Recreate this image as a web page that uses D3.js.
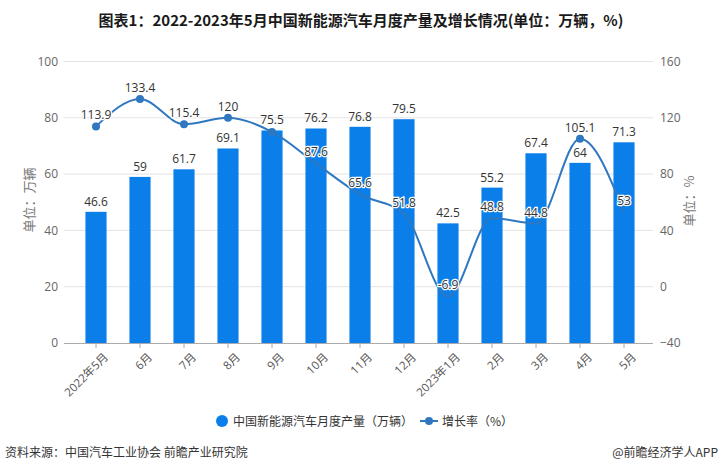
<!DOCTYPE html>
<html><head><meta charset="utf-8">
<script src="https://cdn.jsdelivr.net/npm/d3@7"></script>
<style>
html,body{margin:0;padding:0;background:#fff;}
text{font-family:"Noto Sans CJK SC","Noto Sans",sans-serif;}
</style></head>
<body><svg id="c" width="722" height="474"></svg>
<script>
const categories = ["2022年5月","6月","7月","8月","9月","10月","11月","12月","2023年1月","2月","3月","4月","5月"];
const production = [46.6,59,61.7,69.1,75.5,76.2,76.8,79.5,42.5,55.2,67.4,64,71.3];
const growth = [113.9,133.4,115.4,120,110,87.6,65.6,51.8,-6.9,48.8,44.8,105.1,53];
const growthLabelShown = [true,true,true,true,false,true,true,true,true,true,true,true,true];
const growthMarkerShown = [true,true,true,true,true,false,false,false,false,false,false,true,false];
const leftTicks = [0,20,40,60,80,100];
const rightTicks = [-40,0,40,80,120,160];

const svg = d3.select("#c");
const barColor = "#0b7fe9", lineColor = "#2f78c0";
const gx0 = 64, gx1 = 653;
const x = d3.scaleBand().domain(categories).range([74,646]).paddingInner(0.52).paddingOuter(0.26);
const xc = d => x(d) + x.bandwidth()/2;
const yL = d3.scaleLinear().domain([0,100]).range([343,61.5]);
const yR = d3.scaleLinear().domain([-40,160]).range([343,61.5]);

// title
svg.append("text").attr("x",361).attr("y",26).attr("text-anchor","middle")
  .attr("font-size",15).attr("font-weight","bold").attr("fill","#1a1a1a")
  .text("图表1：2022-2023年5月中国新能源汽车月度产量及增长情况(单位：万辆，%)");

// grid
svg.append("g").selectAll("line").data(leftTicks.slice(1)).join("line")
  .attr("x1",gx0).attr("x2",gx1).attr("y1",d=>yL(d)).attr("y2",d=>yL(d))
  .attr("stroke","#e3e3e3").attr("stroke-width",1);

// left axis labels
const lax = d3.axisLeft(yL).tickValues(leftTicks).tickSize(0).tickPadding(6);
const gL = svg.append("g").attr("transform",`translate(${gx0},0)`).call(lax);
gL.select(".domain").remove();
gL.selectAll("text").attr("font-size",12).attr("fill","#666").style("font-family","'Open Sans','Noto Sans',sans-serif");

const rax = d3.axisRight(yR).tickValues(rightTicks).tickSize(0).tickPadding(7);
const gR = svg.append("g").attr("transform",`translate(${gx1},0)`).call(rax);
gR.select(".domain").remove();
gR.selectAll("text").attr("font-size",12).attr("fill","#666").style("font-family","'Open Sans','Noto Sans',sans-serif");

// axis names
svg.append("text").attr("transform","translate(34,200) rotate(-90)").attr("text-anchor","middle")
  .attr("font-size",13).attr("fill","#777").text("单位：万辆");
svg.append("text").attr("transform","translate(694,201) rotate(-90)").attr("text-anchor","middle")
  .attr("font-size",13).attr("fill","#777").text("单位：%");

// bars
svg.append("g").selectAll("rect").data(categories).join("rect")
  .attr("x",d=>x(d)).attr("width",x.bandwidth())
  .attr("y",(d,i)=>yL(production[i])).attr("height",(d,i)=>yL(0)-yL(production[i]))
  .attr("fill",barColor);

// x axis
const xax = d3.axisBottom(x).tickSize(5).tickSizeOuter(0).tickPadding(4);
const gX = svg.append("g").attr("transform",`translate(0,${yL(0)})`).call(xax);
gX.select(".domain").attr("d",`M${gx0},0.5H${gx1}`).attr("stroke","#aaa");
gX.selectAll(".tick line").attr("stroke","#aaa");
gX.selectAll("text").attr("font-size",11.5).attr("fill","#555")
  .attr("text-anchor","end").attr("dy","0.3em")
  .attr("transform","translate(4,6) rotate(-45)")
  .style("font-family","'Open Sans','Noto Sans CJK SC',sans-serif");

// bar labels
svg.append("g").selectAll("text").data(categories).join("text")
  .attr("x",d=>xc(d)).attr("y",(d,i)=>yL(production[i])-6)
  .attr("text-anchor","middle").attr("font-size",12).attr("fill","#333")
  .style("font-family","'Open Sans','Noto Sans',sans-serif")
  .text((d,i)=>production[i]);

// line
const line = d3.line().x((d,i)=>xc(categories[i])).y(d=>yR(d)).curve(d3.curveMonotoneX);
svg.append("path").datum(growth).attr("d",line).attr("fill","none")
  .attr("stroke",lineColor).attr("stroke-width",2);
svg.append("g").selectAll("circle").data(categories.filter((c,i)=>growthMarkerShown[i])).join("circle")
  .attr("cx",d=>xc(d)).attr("cy",d=>yR(growth[categories.indexOf(d)])).attr("r",4).attr("fill",lineColor);

// line labels
svg.append("g").selectAll("text").data(categories.filter((c,i)=>growthLabelShown[i])).join("text")
  .attr("x",d=>xc(d)).attr("y",d=>yR(growth[categories.indexOf(d)])-7)
  .attr("text-anchor","middle").attr("font-size",12).attr("fill","#333")
  .attr("stroke","#fff").attr("stroke-width",2.5).attr("paint-order","stroke")
  .style("font-family","'Open Sans','Noto Sans',sans-serif")
  .text(d=>growth[categories.indexOf(d)]);

// legend
const lg = svg.append("g");
lg.append("circle").attr("cx",222).attr("cy",421).attr("r",6).attr("fill",barColor);
lg.append("text").attr("x",233).attr("y",425.5).attr("font-size",12).attr("fill","#333")
  .text("中国新能源汽车月度产量（万辆）");
lg.append("line").attr("x1",420).attr("x2",438).attr("y1",421).attr("y2",421).attr("stroke",lineColor).attr("stroke-width",2);
lg.append("circle").attr("cx",429).attr("cy",421).attr("r",4).attr("fill",lineColor);
lg.append("text").attr("x",442).attr("y",425.5).attr("font-size",12).attr("fill","#333")
  .text("增长率（%）");

// footer
svg.append("text").attr("x",5).attr("y",457).attr("font-size",12).attr("fill","#333")
  .text("资料来源：中国汽车工业协会 前瞻产业研究院");
svg.append("text").attr("x",718).attr("y",457).attr("text-anchor","end").attr("font-size",12).attr("fill","#333")
  .text("@前瞻经济学人APP");
</script></body></html>
